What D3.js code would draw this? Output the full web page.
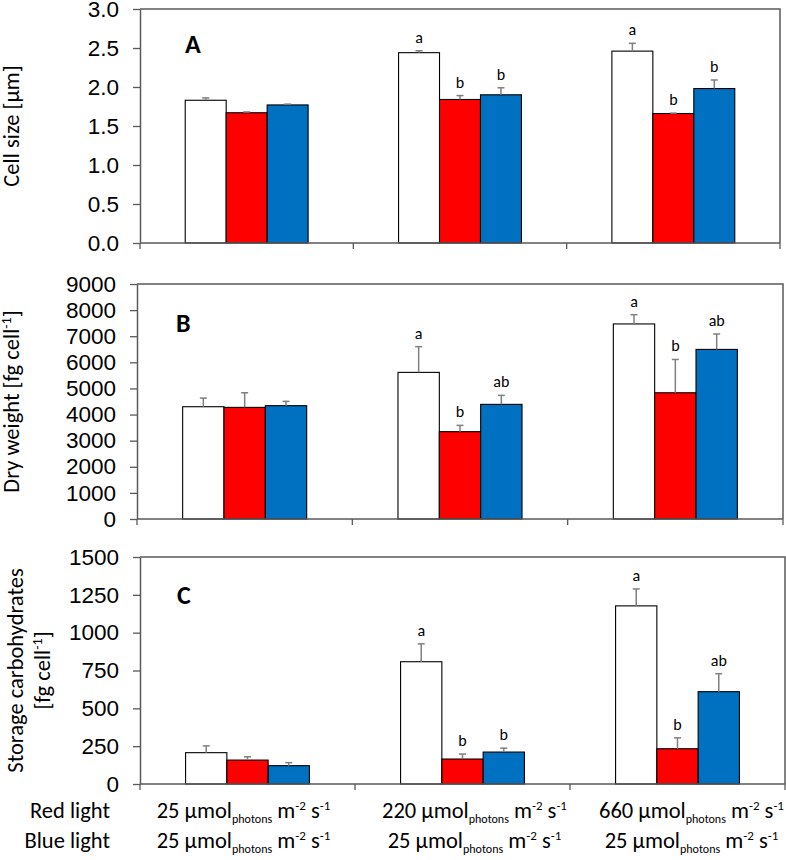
<!DOCTYPE html>
<html><head><meta charset="utf-8">
<script src="https://cdn.jsdelivr.net/npm/d3@7"></script>
<style>
body{margin:0;background:#fff;}
svg{display:block;font-family:Carlito,Calibri,Lato,sans-serif;}
</style></head>
<body><svg id="chart" width="786" height="860"></svg>
<script>
// ---- data ----
const categories = ["R25B25", "R220B25", "R660B25"];
const redLight = ["25", "220", "660"];
const blueLight = ["25", "25", "25"];
const series = ["white", "red", "blue"];
const seriesColors = ["#ffffff", "#ff0000", "#0070c0"];

const cellSizeWhite = [1.83, 2.44, 2.46];
const cellSizeRed = [1.67, 1.84, 1.66];
const cellSizeBlue = [1.77, 1.90, 1.98];
const cellSizeWhiteErr = [0.03, 0.025, 0.10];
const cellSizeRedErr = [0.01, 0.05, 0.005];
const cellSizeBlueErr = [0.01, 0.09, 0.11];
const cellSizeLetters = [["", "", ""], ["a", "b", "b"], ["a", "b", "b"]];
const cellSizeTicks = [0, 0.5, 1.0, 1.5, 2.0, 2.5, 3.0];

const dryWeightWhite = [4300, 5615, 7470];
const dryWeightRed = [4275, 3345, 4835];
const dryWeightBlue = [4340, 4390, 6495];
const dryWeightWhiteErr = [330, 985, 355];
const dryWeightRedErr = [560, 240, 1275];
const dryWeightBlueErr = [165, 345, 590];
const dryWeightLetters = [["", "", ""], ["a", "b", "ab"], ["a", "b", "ab"]];
const dryWeightTicks = [0, 1000, 2000, 3000, 4000, 5000, 6000, 7000, 8000, 9000];

const carbWhite = [207, 808, 1177];
const carbRed = [158, 165, 233];
const carbBlue = [121, 211, 610];
const carbWhiteErr = [45, 118, 112];
const carbRedErr = [22, 33, 72];
const carbBlueErr = [20, 26, 119];
const carbLetters = [["", "", ""], ["a", "b", "b"], ["a", "b", "ab"]];
const carbTicks = [0, 250, 500, 750, 1000, 1250, 1500];

// ---- layout ----
const svg = d3.select("#chart");
const axisColor = "#595959";
const errColor = "#7f7f7f";
const mainFont = 22.5;

const panels = [
  {letter: "A", left: 140, right: 780, top: 9, bottom: 243, max: 3, ticks: cellSizeTicks, fmt: d3.format(".1f"),
   means: [cellSizeWhite, cellSizeRed, cellSizeBlue], errs: [cellSizeWhiteErr, cellSizeRedErr, cellSizeBlueErr],
   letters: cellSizeLetters, title: [["Cell size [µm]"]], titleX: [19], letterPos: [45, 44]},
  {letter: "B", left: 137, right: 783, top: 284, bottom: 519, max: 9000, ticks: dryWeightTicks, fmt: d3.format("d"),
   means: [dryWeightWhite, dryWeightRed, dryWeightBlue], errs: [dryWeightWhiteErr, dryWeightRedErr, dryWeightBlueErr],
   letters: dryWeightLetters, title: [["Dry weight [fg cell", "-1", "]"]], titleX: [19], letterPos: [39, 48]},
  {letter: "C", left: 140, right: 785, top: 557, bottom: 784, max: 1500, ticks: carbTicks, fmt: d3.format("d"),
   means: [carbWhite, carbRed, carbBlue], errs: [carbWhiteErr, carbRedErr, carbBlueErr],
   letters: carbLetters, title: [["Storage carbohydrates"], ["[fg cell", "-1", "]"]], titleX: [23, 50], letterPos: [37, 47]}
];

panels.forEach(p => {
  const g = svg.append("g");
  const x = d3.scaleBand().domain(categories).range([p.left, p.right]).paddingInner(0).paddingOuter(0);
  const bw = x.bandwidth();
  const xs = d3.scaleBand().domain(series).range([bw * 0.212, bw * 0.788]);
  const y = d3.scaleLinear().domain([0, p.max]).range([p.bottom, p.top]);

  // frame top/right
  g.append("path")
    .attr("d", `M${p.left},${p.top}H${p.right}V${p.bottom}`)
    .attr("fill", "none").attr("stroke", axisColor).attr("stroke-width", 1.5);

  // bars
  categories.forEach((c, ci) => {
    series.forEach((s, si) => {
      const v = p.means[si][ci];
      g.append("rect")
        .attr("x", x(c) + xs(s)).attr("width", xs.bandwidth())
        .attr("y", y(v)).attr("height", y(0) - y(v))
        .attr("fill", seriesColors[si]).attr("stroke", "#000").attr("stroke-width", 1.1);
    });
  });
  // error bars + letters
  categories.forEach((c, ci) => {
    series.forEach((s, si) => {
      const v = p.means[si][ci], e = p.errs[si][ci];
      const cx = x(c) + xs(s) + xs.bandwidth() / 2;
      g.append("line").attr("x1", cx).attr("x2", cx).attr("y1", y(v)).attr("y2", y(v + e))
        .attr("stroke", errColor).attr("stroke-width", 1.5);
      g.append("line").attr("x1", cx - 3.5).attr("x2", cx + 3.5).attr("y1", y(v + e)).attr("y2", y(v + e))
        .attr("stroke", errColor).attr("stroke-width", 1.5);
      const lab = p.letters[ci][si];
      if (lab) {
        g.append("text").attr("x", cx).attr("y", y(v + e) - 8)
          .attr("text-anchor", "middle").attr("font-size", 16).attr("fill", "#000").text(lab);
      }
    });
  });

  // y axis
  const ya = g.append("g").attr("transform", `translate(${p.left},0)`)
    .call(d3.axisLeft(y).tickValues(p.ticks).tickFormat(p.fmt).tickSize(7).tickSizeOuter(0).tickPadding(14));
  ya.select(".domain").attr("stroke", axisColor).attr("stroke-width", 1.5);
  ya.selectAll(".tick line").attr("stroke", axisColor).attr("stroke-width", 1.3);
  ya.selectAll(".tick text").attr("font-size", mainFont).attr("fill", "#000").style("font-family", "inherit");

  // x axis line and boundary ticks
  g.append("line").attr("x1", p.left).attr("x2", p.right).attr("y1", p.bottom).attr("y2", p.bottom)
    .attr("stroke", axisColor).attr("stroke-width", 1.5);
  const bounds = categories.map(c => x(c)).concat([x.range()[1]]);
  bounds.forEach(bx => {
    g.append("line").attr("x1", bx).attr("x2", bx).attr("y1", p.bottom).attr("y2", p.bottom + 6)
      .attr("stroke", axisColor).attr("stroke-width", 1.3);
  });

  // panel letter
  g.append("text").attr("x", p.left + p.letterPos[0]).attr("y", p.top + p.letterPos[1])
    .attr("font-size", 26).attr("font-weight", "bold").attr("fill", "#000").text(p.letter);

  // y title
  const cy = (p.top + p.bottom) / 2;
  p.title.forEach((parts, li) => {
    const tx = p.titleX[li];
    const t = g.append("text").attr("transform", `translate(${tx},${cy}) rotate(-90)`)
      .attr("text-anchor", "middle").attr("font-size", mainFont).attr("fill", "#000");
    if (parts.length === 1) {
      t.text(parts[0]);
    } else {
      t.append("tspan").text(parts[0]);
      t.append("tspan").attr("font-size", 14).attr("dy", -8).text(parts[1]);
      t.append("tspan").attr("dy", 8).text(parts[2]);
    }
  });

  // bottom labels for last panel
  if (p.letter === "C") {
    const rows = [["Red light", redLight, p.bottom + 34], ["Blue light", blueLight, p.bottom + 64]];
    rows.forEach(([name, vals, by]) => {
      g.append("text").attr("x", 110).attr("y", by).attr("text-anchor", "end")
        .attr("font-size", mainFont).attr("fill", "#000").text(name);
      categories.forEach((c, ci) => {
        const t = g.append("text").attr("x", x(c) + bw / 2 + [-4, 12, 14][ci]).attr("y", by)
          .attr("text-anchor", "middle").attr("font-size", mainFont).attr("fill", "#000");
        t.append("tspan").text(vals[ci] + " µmol");
        t.append("tspan").attr("font-size", 12).attr("dy", 5).text("photons");
        t.append("tspan").attr("dy", -5).text(" m");
        t.append("tspan").attr("font-size", 13).attr("dy", -8).text("-2");
        t.append("tspan").attr("dy", 8).text(" s");
        t.append("tspan").attr("font-size", 13).attr("dy", -8).text("-1");
      });
    });
  }
});
</script>
</body></html>
